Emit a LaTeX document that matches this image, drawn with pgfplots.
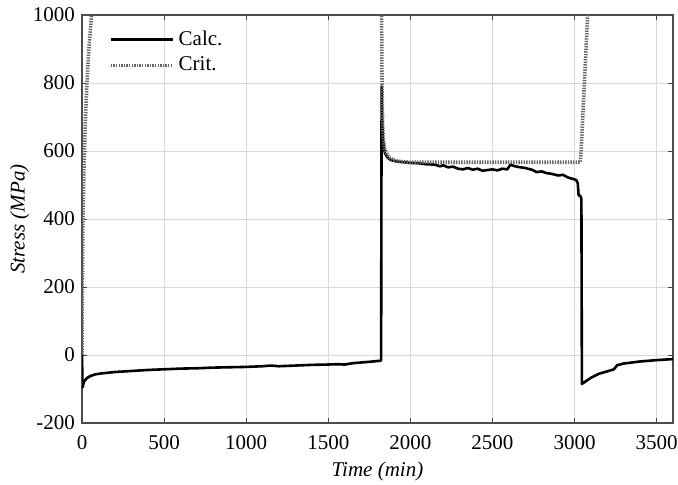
\documentclass[border=0pt]{standalone}
\usepackage{fontspec}
\setmainfont{Liberation Serif}
\usepackage{pgfplots}
\pgfplotsset{compat=1.18}
\begin{document}
\begin{tikzpicture}
\useasboundingbox (-41pt,-30.5pt) rectangle (298pt,211.5pt);
\begin{axis}[
  scale only axis, width=295.5pt, height=204pt,
  xmin=0, xmax=3600, ymin=-200, ymax=1000,
  xtick={0,500,...,3500}, ytick={-200,0,...,1000},
  /pgf/number format/assume math mode=true,
  /pgf/number format/set thousands separator={},
  font=\fontsize{10.5}{12}\selectfont,
  tick align=inside, major tick length=2.5pt,
  tick style={color=black!75, line width=0.5pt},
  axis line style={color=black!70, line width=0.8pt},
  grid=major, grid style={color=black!15, line width=0.4pt},
  xlabel={\textit{Time (min)}}, ylabel={\textit{Stress (MPa)}},
  xlabel style={yshift=0.5pt}, ylabel style={yshift=-5pt},
  xticklabel style={yshift=-2.5pt},
  legend style={at={(rel axis cs:0.035,0.982)}, anchor=north west, draw=none, fill=none,
    font=\fontsize{10.5}{12}\selectfont, row sep=0.3pt},
  legend cell align=left,
  legend image code/.code={\draw[#1] (0pt,0pt) -- (31pt,0pt);},
]
\addplot[black, line width=1.3pt, line join=round] coordinates {
(0,0)(2,-60)(4,-95)(8,-85)(15,-76)(30,-68)(50,-62)(80,-57)(120,-54)(200,-50)(300,-47)(400,-44)(500,-42)(600,-40)(700,-39)(800,-37)(900,-36)(1000,-35)(1100,-33)(1150,-31)(1200,-33)(1300,-31)(1400,-29)(1500,-28)(1550,-27)(1600,-28)(1650,-24)(1700,-22)(1750,-20)(1815,-17)(1822,-15)
(1825,790)(1828,700)(1832,640)(1838,610)(1845,595)(1855,585)(1870,577)(1890,572)(1920,569)(1960,567)(2000,565)(2050,564)(2100,561)(2150,560)(2180,555)(2200,558)(2230,552)(2260,554)(2290,548)(2320,546)(2350,550)(2380,545)(2410,548)(2440,542)(2470,544)(2500,546)(2530,543)(2560,548)(2590,546)(2610,560)(2630,556)(2660,553)(2700,550)(2740,545)(2770,538)(2800,540)(2830,535)(2860,533)(2900,528)(2930,530)(2960,522)(2990,518)(3010,515)(3020,505)(3025,470)(3035,468)(3042,460)
(3045,-85)(3060,-80)(3100,-67)(3150,-55)(3200,-48)(3240,-42)(3260,-30)(3300,-25)(3350,-22)(3400,-19)(3450,-17)(3500,-15)(3600,-12)
};
\addlegendentry{Calc.}
\addplot[color=black!60, line width=1.8pt, dash pattern=on 0.7pt off 0.6pt] coordinates {
(0,0)(2,200)(6,400)(12,550)(20,680)(30,800)(42,900)(58,1000)(80,1150)(1815,1150)
(1824,1100)(1826,900)(1828,780)(1831,680)(1836,630)(1845,605)(1858,590)(1875,580)(1900,573)(1940,569)(2000,567)(3035,567)(3040,600)(3050,700)(3060,800)(3070,900)(3080,1000)(3090,1100)
};
\addlegendentry{Crit.}
\end{axis}
\end{tikzpicture}
\end{document}
